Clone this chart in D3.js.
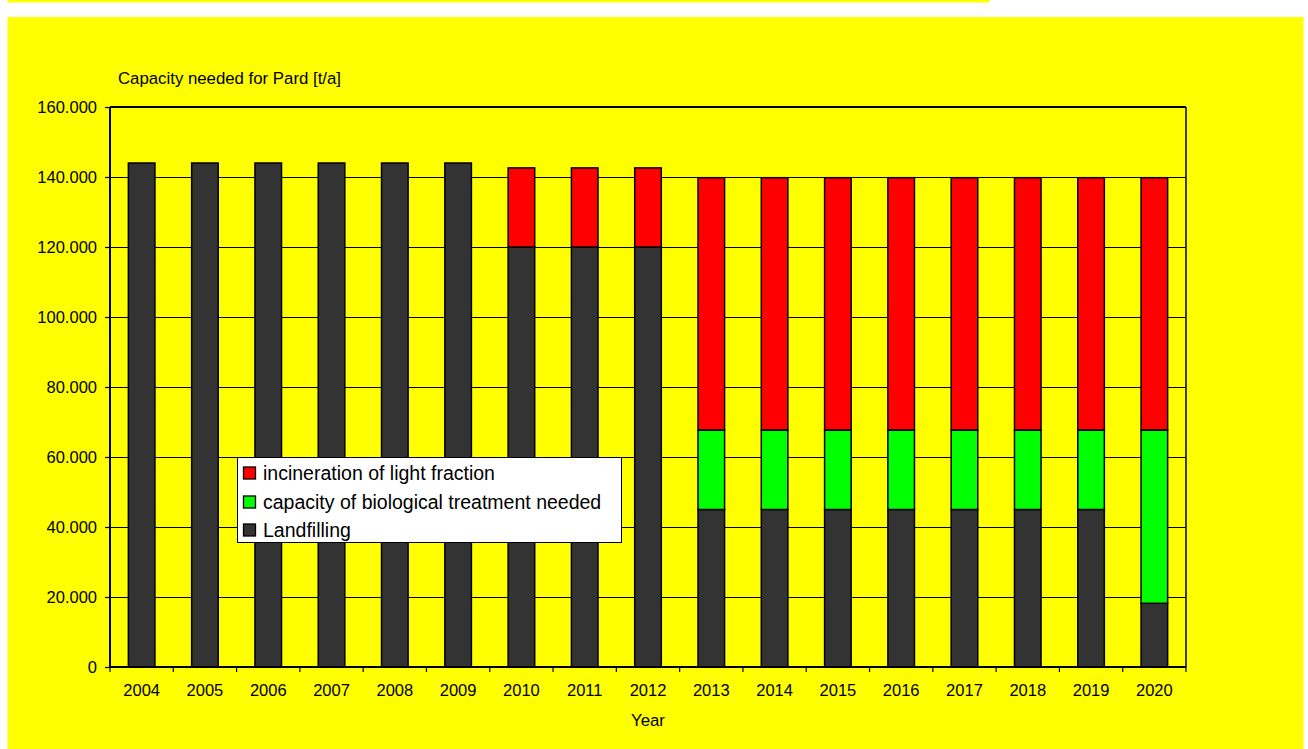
<!DOCTYPE html>
<html>
<head>
<meta charset="utf-8">
<script src="https://cdn.jsdelivr.net/npm/d3@7/dist/d3.min.js"></script>
<style>
  html, body { margin: 0; padding: 0; background: #ffffff; }
  svg { display: block; font-family: "Liberation Sans", Arial, sans-serif; }
</style>
</head>
<body>
<svg id="chart" width="1308" height="749"></svg>
<script>
// ---- data ----
const years = ["2004","2005","2006","2007","2008","2009","2010","2011","2012","2013","2014","2015","2016","2017","2018","2019","2020"];
const landfilling = [144000,144000,144000,144000,144000,144000,120000,120000,120000,45000,45000,45000,45000,45000,45000,45000,18200];
const biological  = [0,0,0,0,0,0,0,0,0,22700,22700,22700,22700,22700,22700,22700,49500];
const incineration = [0,0,0,0,0,0,22600,22600,22600,72100,72100,72100,72100,72100,72100,72100,72100];
const seriesNames = ["Landfilling","capacity of biological treatment needed","incineration of light fraction"];
const seriesColors = ["#333333","#00ff00","#ff0000"];
const yTicks = [0,20000,40000,60000,80000,100000,120000,140000,160000];
const yTitle = "Capacity needed for Pard [t/a]";
const xTitle = "Year";

// ---- layout ----
const svg = d3.select("#chart");
const plot = {left: 110, right: 1186, top: 107, bottom: 667};

svg.append("rect").attr("x", 7.5).attr("y", 0).attr("width", 982).attr("height", 2.5).attr("fill", "#ffff00");
svg.append("rect").attr("x", 7.5).attr("y", 17).attr("width", 1296).attr("height", 732).attr("fill", "#ffff00");

const x = d3.scaleBand().domain(years).range([plot.left, plot.right]).paddingInner(0.58).paddingOuter(0.29);
const y = d3.scaleLinear().domain([0, 160000]).range([plot.bottom, plot.top]);
const loc = d3.formatLocale({decimal: ",", thousands: ".", grouping: [3], currency: ["", ""]});
const fmt = loc.format(",d");

// gridlines
svg.append("g").selectAll("line").data(yTicks).join("line")
  .attr("x1", plot.left).attr("x2", plot.right)
  .attr("y1", d => Math.round(y(d)) + 0.5).attr("y2", d => Math.round(y(d)) + 0.5)
  .attr("stroke", "#000").attr("stroke-width", 1);

// stacked bars
const table = years.map((yr, i) => ({year: yr, s0: landfilling[i], s1: biological[i], s2: incineration[i]}));
const stack = d3.stack().keys(["s0","s1","s2"])(table);
stack.forEach((layer, li) => {
  svg.append("g").selectAll("rect").data(layer.filter(d => d[1] - d[0] > 0)).join("rect")
    .attr("x", d => x(d.data.year))
    .attr("width", x.bandwidth())
    .attr("y", d => y(d[1]))
    .attr("height", d => y(d[0]) - y(d[1]))
    .attr("fill", seriesColors[li])
    .attr("stroke", "#000").attr("stroke-width", 1.5);
});

// plot border (right & top)
svg.append("line").attr("x1", plot.left).attr("x2", plot.right).attr("y1", plot.top).attr("y2", plot.top).attr("stroke", "#000").attr("stroke-width", 2);
svg.append("line").attr("x1", plot.right).attr("x2", plot.right).attr("y1", plot.top).attr("y2", plot.bottom).attr("stroke", "#000").attr("stroke-width", 1.5);

// y axis
const yAxis = d3.axisLeft(y).tickValues(yTicks).tickFormat(fmt).tickSize(5).tickPadding(8);
const gy = svg.append("g").attr("transform", `translate(${plot.left},0)`).call(yAxis);
gy.select(".domain").attr("stroke", "#000").attr("stroke-width", 2).attr("d", `M0,${plot.top}V${plot.bottom}`);
gy.selectAll(".tick line").attr("stroke", "#000").attr("stroke-width", 1.2);
gy.selectAll(".tick text").attr("font-size", "16.5px").attr("fill", "#000").attr("font-family", "Liberation Sans, Arial, sans-serif");

// x axis
const xAxis = d3.axisBottom(x).tickSize(0).tickPadding(0);
const gx = svg.append("g").attr("transform", `translate(0,${plot.bottom})`).call(xAxis);
gx.select(".domain").attr("stroke", "#000").attr("stroke-width", 2).attr("d", `M${plot.left},0H${plot.right}`);
gx.selectAll(".tick text").attr("font-size", "16.5px").attr("fill", "#000").attr("dy", null).attr("y", 29)
  .attr("font-family", "Liberation Sans, Arial, sans-serif");
// category separator ticks
const step = x.step();
const seps = d3.range(years.length + 1).map(i => plot.left + i * (plot.right - plot.left) / years.length);
svg.append("g").selectAll("line").data(seps).join("line")
  .attr("x1", d => d).attr("x2", d => d)
  .attr("y1", plot.bottom).attr("y2", plot.bottom + 5)
  .attr("stroke", "#000").attr("stroke-width", 1.2);

// titles
svg.append("text").attr("x", 118).attr("y", 84).attr("font-size", "16.8px").attr("fill", "#000").text(yTitle);
svg.append("text").attr("x", (plot.left + plot.right) / 2).attr("y", 726).attr("text-anchor", "middle")
  .attr("font-size", "16.8px").attr("fill", "#000").text(xTitle);

// legend
const lg = svg.append("g");
lg.append("rect").attr("x", 237.5).attr("y", 457.5).attr("width", 384).attr("height", 85)
  .attr("fill", "#fff").attr("stroke", "#000").attr("stroke-width", 1);
const legendOrder = [2, 1, 0];
const rowY = [473, 502, 530];
legendOrder.forEach((si, r) => {
  lg.append("rect").attr("x", 243.5).attr("y", rowY[r] - 6).attr("width", 12).attr("height", 12)
    .attr("fill", seriesColors[si]).attr("stroke", "#000").attr("stroke-width", 1.3);
  lg.append("text").attr("x", 263).attr("y", rowY[r] + 7).attr("font-size", "19.5px").attr("fill", "#000")
    .text(seriesNames[si]);
});
</script>
</body>
</html>
